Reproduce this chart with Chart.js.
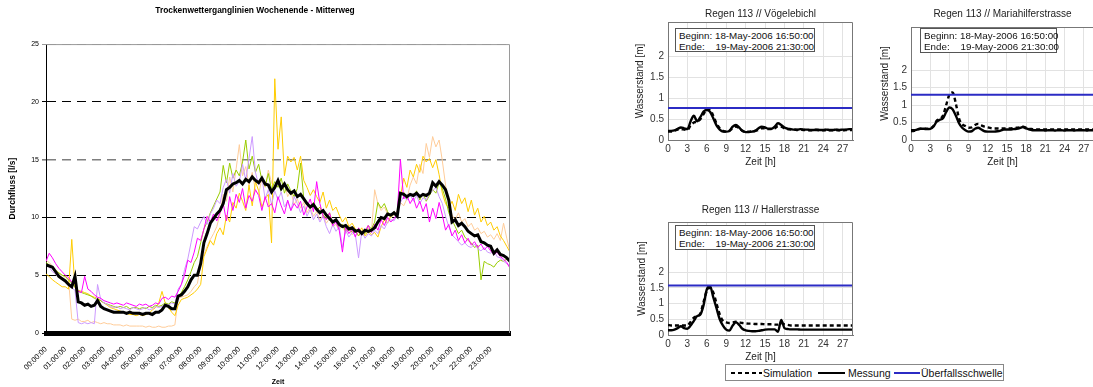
<!DOCTYPE html>
<html lang="de">
<head>
<meta charset="utf-8">
<title>Trockenwetterganglinien / Regen 113</title>
<script src="https://cdn.jsdelivr.net/npm/chart.js@4.4.1/dist/chart.umd.min.js"></script>
<style>
  html, body { margin: 0; padding: 0; background: #fff; }
  body { position: relative; width: 1093px; height: 387px; overflow: hidden; font-family: "Liberation Sans", Arial, sans-serif; }
  canvas { position: absolute; }
  .info { position: absolute; box-sizing: border-box; background: #fff; border: 1px solid #555; font-size: 9.8px; line-height: 11px; padding: 1px 0 0 3px; white-space: pre; color: #111; }
  #legende { position: absolute; left: 725px; top: 364px; width: 279px; height: 17px; box-sizing: border-box; border: 1px solid #888; background: #fff; font-size: 10.5px; color: #111; }
  #legende span { position: absolute; top: 2px; }
  #legende i { position: absolute; top: 7px; height: 2px; }
</style>
</head>
<body>
<canvas id="links" width="520" height="387" style="left:0;top:0"></canvas>
<canvas id="voegelebichl" width="240" height="170" style="left:620px;top:0"></canvas>
<canvas id="mariahilf" width="240" height="170" style="left:860px;top:0"></canvas>
<canvas id="haller" width="240" height="175" style="left:620px;top:190px"></canvas>

<div class="info" style="left:675px;top:28px;width:140px;height:24px">Beginn: 18-May-2006 16:50:00
Ende:    19-May-2006 21:30:00</div>
<div class="info" style="left:920px;top:28px;width:137px;height:25px">Beginn: 18-May-2006 16:50:00
Ende:    19-May-2006 21:30:00</div>
<div class="info" style="left:675px;top:225px;width:140px;height:25px">Beginn: 18-May-2006 16:50:00
Ende:    19-May-2006 21:30:00</div>

<div id="legende">
  <i style="left:5px;width:31px;background:repeating-linear-gradient(90deg,#000 0 4px,transparent 4px 7px)"></i>
  <span style="left:37px">Simulation</span>
  <i style="left:92px;width:27px;background:#000"></i>
  <span style="left:122px">Messung</span>
  <i style="left:168px;width:26px;background:#2b2bc4"></i>
  <span style="left:195px">Überfallsschwelle</span>
</div>

<script>
Chart.defaults.font.family = '"Liberation Sans", Arial, sans-serif';

// ---- linkes Diagramm: Trockenwetter, 10-Minuten-Werte [l/s] ----
const schrittStunden = 10 / 60;
const zeitLabels = [
  "00:00:00", "01:00:00", "02:00:00", "03:00:00", "04:00:00", "05:00:00",
  "06:00:00", "07:00:00", "08:00:00", "09:00:00", "10:00:00", "11:00:00",
  "12:00:00", "13:00:00", "14:00:00", "15:00:00", "16:00:00", "17:00:00",
  "18:00:00", "19:00:00", "20:00:00", "21:00:00", "22:00:00", "23:00:00",
];

const mittel = [
  5.9, 5.8, 5.7, 5.3, 4.9, 4.7,
  4.5, 4.2, 4.0, 4.9, 2.7, 2.6,
  2.4, 2.5, 2.3, 2.4, 2.8, 2.3,
  2.1, 2.0, 1.9, 1.8, 1.8, 1.8,
  1.8, 1.7, 1.8, 1.7, 1.7, 1.7,
  1.6, 1.7, 1.7, 1.6, 1.8, 1.8,
  2.0, 2.4, 2.3, 2.1, 2.1, 3.2,
  3.3, 3.6, 4.0, 4.6, 5.0, 5.0,
  6.0, 7.8, 8.6, 9.5, 9.9, 10.3,
  10.6, 11.2, 12.4, 12.6, 12.9, 13.0,
  13.2, 12.9, 13.3, 13.1, 13.5, 13.2,
  13.0, 13.4, 12.9, 12.8, 12.2, 12.6,
  13.2, 12.5, 12.9, 12.4, 12.1, 12.3,
  11.8, 12.0, 11.6, 11.2, 10.9, 11.1,
  10.7, 10.4, 10.6, 10.2, 9.9, 9.6,
  9.8, 9.4, 9.2, 9.3, 9.0, 9.1,
  8.8, 8.9, 8.6, 8.9, 8.8, 8.9,
  9.1, 9.6, 10.0, 9.9, 10.3, 10.2,
  10.4, 10.1, 12.1, 12.0, 11.8, 12.0,
  11.9, 12.1, 11.8, 12.0, 11.9, 12.1,
  13.0, 12.7, 13.1, 12.8, 12.4, 11.5,
  9.6, 9.8, 9.3, 9.5, 9.2, 8.8,
  8.6, 8.4, 8.5, 7.9, 7.8, 7.6,
  7.5, 6.9, 7.2, 6.8, 6.7, 6.5,
  6.2,
];

const tagMagenta = [
  6.2, 6.9, 6.5, 6.0, 5.6, 5.3,
  5.0, 4.8, 4.4, 4.3, 3.6, 3.5,
  4.9, 3.8, 3.6, 3.3, 3.1, 3.0,
  2.8, 2.7, 2.6, 2.5, 2.6, 2.5,
  2.4, 2.6, 2.5, 2.4, 2.3, 2.5,
  2.4, 2.5, 2.3, 2.4, 2.6, 2.5,
  3.0, 3.1, 2.9, 3.2, 3.1, 3.6,
  4.2, 5.0, 6.3, 6.1, 7.0, 8.2,
  8.0, 9.0, 10.1, 9.6, 10.3, 9.7,
  10.4, 11.2, 9.7, 11.8, 10.6, 12.0,
  11.3, 12.5, 10.8, 11.9, 11.4, 12.4,
  11.9, 10.6, 11.8, 10.9, 11.2, 10.4,
  11.8, 11.0, 10.3, 11.5, 10.6, 11.2,
  10.8, 11.4, 10.2, 10.9, 11.6, 10.5,
  13.1, 11.2, 10.1, 9.8, 10.4, 9.3,
  9.6, 8.9, 7.0, 9.2, 8.6, 9.0,
  8.3, 9.1, 8.5, 8.8, 9.3, 8.7,
  9.4, 8.9, 9.8, 9.3, 10.0, 9.6,
  9.9, 10.3, 15.0, 11.6, 11.9, 11.2,
  11.7, 10.8, 11.4, 10.5, 11.2, 9.6,
  10.8, 9.9, 11.3, 10.2, 8.9, 9.4,
  8.4, 8.9, 8.0, 8.5, 7.8, 8.2,
  7.6, 7.9, 7.4, 7.7, 7.2, 7.5,
  7.1, 6.8, 7.0, 6.6, 6.4, 6.1,
  5.6,
];

const tagLila = [
  6.0, 5.7, 5.3, 5.1, 4.8, 4.6,
  4.4, 4.1, 3.9, 3.7, 0.9, 0.8,
  0.9, 0.8, 0.9, 0.8, 4.2, 2.9,
  2.6, 2.5, 2.3, 2.2, 2.3, 2.1,
  2.2, 2.1, 2.0, 2.2, 2.1, 2.0,
  2.1, 2.2, 2.0, 2.1, 2.3, 2.2,
  2.3, 2.5, 2.4, 2.6, 2.5, 3.8,
  4.2, 5.5, 6.4, 7.8, 9.2, 9.0,
  9.6, 10.1, 9.4, 10.3, 10.8, 11.5,
  11.2, 12.6, 13.3, 12.1, 13.8, 12.7,
  13.1, 14.6, 13.2, 15.1, 17.0, 13.9,
  12.8, 13.5, 11.6, 12.4, 11.1, 12.3,
  11.5, 12.2, 10.9, 11.4, 10.6, 11.8,
  11.2, 10.4, 11.0, 10.1, 10.7, 9.8,
  10.3, 9.6, 10.1, 9.2, 8.6, 9.4,
  8.8, 9.2, 7.4, 8.9, 8.3, 8.7,
  8.5, 6.5, 8.8, 8.2, 8.6, 8.4,
  8.9, 8.6, 9.3, 9.0, 9.6, 9.8,
  9.7, 10.2, 11.3, 11.8, 11.5, 12.0,
  11.4, 11.9, 11.2, 11.7, 11.5, 12.1,
  12.3, 12.6, 11.8, 11.2, 10.1, 9.2,
  8.5, 8.2, 7.9, 7.6, 7.8, 7.5,
  7.4, 7.7, 7.3, 7.1, 7.4, 7.0,
  6.9, 7.2, 6.6, 6.5, 6.2, 6.0,
  5.8,
];

const tagGruen = [
  6.1, 5.9, 5.6, 5.4, 5.2, 5.0,
  4.9, 4.6, 4.3, 4.0, 3.6, 3.5,
  3.4, 3.3, 3.2, 3.0, 2.9, 2.8,
  2.6, 2.5, 2.4, 2.3, 2.2, 2.3,
  2.2, 2.3, 2.1, 2.2, 2.2, 2.1,
  2.2, 2.1, 2.3, 2.2, 2.4, 2.3,
  2.4, 2.6, 2.5, 2.7, 2.6, 3.2,
  3.5, 4.0, 4.6, 5.3, 6.1, 6.6,
  7.8, 9.0, 9.6, 10.4, 11.0, 11.6,
  12.2, 14.5, 13.0, 14.7, 13.4, 14.1,
  13.6, 14.8, 16.7, 14.2, 15.3, 13.9,
  14.6, 13.2, 12.7, 13.8, 12.4, 13.1,
  12.6, 13.4, 12.1, 12.9, 12.3, 11.8,
  12.5, 14.7, 11.6, 11.2, 10.8, 11.3,
  10.6, 10.9, 10.2, 9.9, 10.4, 9.5,
  9.7, 9.1, 9.4, 8.8, 9.2, 8.7,
  8.9, 8.4, 8.8, 8.6, 9.3, 9.0,
  9.6, 11.3, 10.8, 11.2, 10.5, 10.1,
  10.3, 10.0, 11.9, 12.2, 11.6, 12.0,
  11.8, 12.3, 11.5, 12.1, 11.4, 11.9,
  12.4, 12.1, 13.0, 12.5, 11.6, 10.4,
  9.8, 9.2, 8.6, 8.9, 8.3, 8.0,
  7.8, 7.4, 7.6, 4.6, 6.2, 6.0,
  5.9, 5.7, 6.1, 6.3, 6.2, 6.4,
  6.5,
];

const tagGold = [
  5.1, 4.9, 4.6, 4.4, 4.2, 4.0,
  4.0, 3.8, 8.1, 3.9, 3.7, 3.6,
  3.5, 3.4, 3.2, 3.1, 3.0, 2.8,
  2.6, 2.4, 2.2, 2.1, 2.0, 1.9,
  1.8, 1.7, 1.6, 1.6, 1.5, 1.6,
  1.5, 1.6, 1.7, 2.0, 2.2, 2.6,
  3.6, 2.6, 2.2, 1.8, 1.5, 2.4,
  2.9, 3.0, 3.1, 3.3, 3.5, 3.8,
  4.2, 6.6, 7.3, 8.0, 7.6, 8.6,
  9.1, 8.5, 10.2, 9.6, 11.3, 10.8,
  12.1, 11.4, 10.6, 12.8, 11.0, 13.1,
  12.3, 10.9, 11.6, 12.0, 7.8, 22.0,
  15.9, 18.7, 13.6, 15.3, 14.8, 15.2,
  14.1, 15.3, 13.2, 12.6, 11.9, 12.4,
  11.8, 11.3, 12.2, 10.8, 11.5, 10.6,
  10.9, 10.2, 9.6, 10.0, 9.2, 9.5,
  9.0, 8.7, 9.1, 8.4, 8.8, 8.5,
  8.7, 8.3, 9.2, 9.8, 9.5, 10.1,
  10.5, 10.2, 11.8, 13.4, 12.6, 14.1,
  13.5, 14.6, 13.9, 15.3, 14.8, 15.1,
  14.3, 15.0, 13.7, 12.1, 11.2, 10.8,
  11.4, 10.6, 12.0, 11.2, 11.7, 10.5,
  11.5, 10.2, 10.8, 9.6, 10.1, 9.3,
  9.6, 8.9, 9.2, 8.4, 8.0, 7.5,
  7.0,
];

const tagPfirsich = [
  6.3, 6.1, 5.8, 5.5, 5.2, 5.0,
  4.8, 4.6, 1.2, 1.1, 1.2, 1.0,
  1.0, 1.1, 0.9, 1.0, 0.9, 0.8,
  0.9, 0.8, 0.8, 0.7, 0.7, 0.7,
  0.6, 0.7, 0.6, 0.6, 0.6, 0.6,
  0.6, 0.5, 0.6, 0.5, 0.5, 0.6,
  0.5, 0.5, 0.6, 0.6, 0.7, 3.0,
  3.1, 3.2, 3.3, 3.6, 4.0, 4.3,
  6.0, 6.8, 7.5, 8.1, 8.6, 9.2,
  10.3, 12.0, 11.4, 13.5, 12.2, 14.2,
  16.3, 13.6, 14.4, 12.8, 13.9, 12.3,
  12.0, 13.4, 12.6, 14.1, 13.0, 12.5,
  13.2, 12.4, 13.0, 11.8, 12.3, 11.1,
  11.6, 10.8, 11.3, 10.4, 10.9, 10.1,
  10.5, 9.8, 10.2, 9.5, 9.9, 9.2,
  9.4, 8.9, 9.3, 8.6, 9.0, 8.5,
  8.8, 8.4, 8.9, 8.6, 9.1, 8.7,
  12.4, 11.2, 10.6, 10.9, 10.3, 10.0,
  10.2, 10.6, 11.3, 11.0, 11.6, 12.8,
  13.5, 12.9, 14.6, 13.8, 16.4, 15.2,
  17.0, 16.1, 16.7, 14.9, 12.8, 11.4,
  10.2, 9.8, 10.4, 9.6, 9.9, 9.2,
  9.5, 8.9, 9.1, 8.6, 8.8, 8.3,
  8.5, 8.1, 8.6, 8.0, 9.5, 8.2,
  7.0,
];

// ---- rechte Diagramme: Regen 113, Halbstundenwerte [m] ----
const schrittRegen = 0.5;
const zeitMax = 28.6;
const xTicksRegen = [0, 3, 6, 9, 12, 15, 18, 21, 24, 27];
const yTicksRegen = [0, 0.5, 1, 1.5, 2];

const messungVoegelebichl = [
  0.22, 0.22, 0.23, 0.27, 0.30, 0.28, 0.26, 0.45, 0.58, 0.45, 0.55, 0.68,
  0.72, 0.68, 0.52, 0.35, 0.25, 0.20, 0.20, 0.22, 0.32, 0.36, 0.30, 0.22,
  0.19, 0.19, 0.20, 0.22, 0.28, 0.32, 0.30, 0.27, 0.27, 0.32, 0.40, 0.36,
  0.30, 0.27, 0.26, 0.25, 0.25, 0.26, 0.25, 0.25, 0.24, 0.24, 0.25, 0.24,
  0.24, 0.25, 0.24, 0.24, 0.25, 0.24, 0.25, 0.25, 0.26, 0.26,
];
const simulationVoegelebichl = [
  0.20, 0.20, 0.22, 0.25, 0.26, 0.25, 0.24, 0.35, 0.42, 0.44, 0.50, 0.62,
  0.74, 0.73, 0.58, 0.40, 0.28, 0.22, 0.20, 0.22, 0.28, 0.32, 0.28, 0.22,
  0.20, 0.20, 0.21, 0.22, 0.24, 0.28, 0.28, 0.26, 0.26, 0.28, 0.33, 0.32,
  0.28, 0.26, 0.25, 0.25, 0.24, 0.25, 0.24, 0.24, 0.23, 0.24, 0.24, 0.23,
  0.23, 0.24, 0.23, 0.23, 0.24, 0.23, 0.23, 0.24, 0.24, 0.24,
];

const messungMariahilf = [
  0.28, 0.28, 0.30, 0.32, 0.32, 0.31, 0.32, 0.38, 0.52, 0.58, 0.62, 0.80,
  0.93, 0.88, 0.70, 0.48, 0.35, 0.28, 0.24, 0.25, 0.32, 0.35, 0.30, 0.25,
  0.24, 0.24, 0.24, 0.25, 0.27, 0.30, 0.30, 0.30, 0.31, 0.32, 0.34, 0.37,
  0.33, 0.30, 0.28, 0.28, 0.28, 0.28, 0.27, 0.28, 0.28, 0.27, 0.28, 0.28,
  0.27, 0.28, 0.28, 0.27, 0.28, 0.28, 0.28, 0.27, 0.28, 0.28,
];
const simulationMariahilf = [
  0.25, 0.26, 0.30, 0.32, 0.33, 0.32, 0.33, 0.40, 0.55, 0.60, 0.70, 1.00,
  1.30, 1.36, 1.05, 0.62, 0.45, 0.40, 0.35, 0.36, 0.43, 0.46, 0.42, 0.38,
  0.36, 0.34, 0.33, 0.33, 0.33, 0.33, 0.33, 0.33, 0.34, 0.35, 0.36, 0.38,
  0.35, 0.32, 0.31, 0.30, 0.30, 0.30, 0.30, 0.30, 0.30, 0.30, 0.30, 0.30,
  0.30, 0.30, 0.30, 0.30, 0.30, 0.30, 0.30, 0.30, 0.30, 0.30,
];

const messungHaller = [
  0.15, 0.15, 0.17, 0.22, 0.28, 0.22, 0.20, 0.30, 0.45, 0.60, 0.65, 0.95,
  1.45, 1.55, 1.20, 0.85, 0.50, 0.30, 0.17, 0.14, 0.30, 0.40, 0.32, 0.20,
  0.15, 0.13, 0.12, 0.12, 0.13, 0.15, 0.17, 0.18, 0.18, 0.18, 0.10, 0.48,
  0.22, 0.19, 0.18, 0.18, 0.18, 0.17, 0.17, 0.17, 0.17, 0.17, 0.17, 0.17,
  0.17, 0.17, 0.17, 0.17, 0.17, 0.17, 0.17, 0.17, 0.17, 0.17,
];
const simulationHaller = [
  0.32, 0.30, 0.30, 0.30, 0.30, 0.30, 0.30, 0.42, 0.55, 0.60, 0.68, 1.05,
  1.40, 1.50, 1.35, 1.00, 0.65, 0.45, 0.40, 0.38, 0.40, 0.42, 0.40, 0.38,
  0.37, 0.36, 0.36, 0.35, 0.35, 0.35, 0.34, 0.34, 0.34, 0.33, 0.33, 0.38,
  0.34, 0.32, 0.30, 0.30, 0.30, 0.30, 0.30, 0.30, 0.30, 0.30, 0.30, 0.30,
  0.30, 0.30, 0.30, 0.30, 0.30, 0.30, 0.30, 0.30, 0.30, 0.30,
];

// Überfallsschwelle: Vögelebichl, Mariahilferstrasse, Hallerstrasse
const schwellen = [0.77, 1.29, 1.57];

function punkte(werte, schritt) {
  return werte.map((v, i) => ({ x: i * schritt, y: v }));
}

// graue Rahmenlinie oben und rechts
function rahmen(farbe) {
  return {
    id: "rahmen",
    afterDatasetsDraw(chart) {
      const { ctx, chartArea: a } = chart;
      ctx.save();
      ctx.strokeStyle = farbe;
      ctx.lineWidth = 1;
      ctx.beginPath();
      ctx.moveTo(a.left, a.top + 0.5);
      ctx.lineTo(a.right - 0.5, a.top + 0.5);
      ctx.lineTo(a.right - 0.5, a.bottom);
      ctx.stroke();
      ctx.restore();
    },
  };
}

// Titel zentriert über der Achse (wie MATLAB)
const kopfTitel = {
  id: "kopf",
  afterDraw(chart, args, o) {
    const { ctx, chartArea: a } = chart;
    ctx.save();
    ctx.font = '10px "Liberation Sans", Arial, sans-serif';
    ctx.fillStyle = "#222";
    ctx.textAlign = "center";
    ctx.textBaseline = "middle";
    ctx.fillText(o.text, (a.left + a.right) / 2, o.y);
    ctx.restore();
  },
};

const linieFarbe = (c) => (c.tick && c.tick.value === 15 ? "#7f7f7f" : c.tick && c.tick.value === 25 ? "#9a9a9a" : "#000");

new Chart(document.getElementById("links"), {
  type: "line",
  data: {
    datasets: [
      { label: "Mittelwert", data: punkte(mittel, schrittStunden), borderColor: "#000", borderWidth: 3 },
      { label: "Tag 1", data: punkte(tagMagenta, schrittStunden), borderColor: "#FF00FF", borderWidth: 1 },
      { label: "Tag 2", data: punkte(tagLila, schrittStunden), borderColor: "#CC99FF", borderWidth: 1 },
      { label: "Tag 3", data: punkte(tagGruen, schrittStunden), borderColor: "#99CC00", borderWidth: 1 },
      { label: "Tag 4", data: punkte(tagGold, schrittStunden), borderColor: "#FFCC00", borderWidth: 1 },
      { label: "Tag 5", data: punkte(tagPfirsich, schrittStunden), borderColor: "#FFCC99", borderWidth: 1 },
    ],
  },
  options: {
    responsive: false,
    animation: false,
    devicePixelRatio: 1,
    layout: { padding: { left: 0, right: 10, top: 0, bottom: 0 } },
    elements: { point: { radius: 0 }, line: { tension: 0 } },
    plugins: {
      legend: { display: false },
      tooltip: { enabled: false },
      title: {
        display: true,
        text: "Trockenwetterganglinien Wochenende - Mitterweg",
        color: "#000",
        font: { size: 8.4, weight: "bold" },
        padding: { top: 6, bottom: 28 },
      },
    },
    scales: {
      x: {
        type: "linear",
        min: 0,
        max: 24,
        afterBuildTicks: (s) => { s.ticks = zeitLabels.map((t, i) => ({ value: i })); },
        ticks: { autoSkip: false, minRotation: 45, maxRotation: 45, callback: (v) => zeitLabels[v], color: "#000", font: { size: 7.5 }, padding: 4 },
        grid: { display: false },
        border: { display: true, color: "#000", width: 5 },
        title: { display: true, text: "Zeit", color: "#000", font: { size: 7, weight: "bold" }, padding: { top: 0, bottom: 1 } },
        afterFit: (s) => { s.height = 54; },
      },
      y: {
        min: 0,
        max: 25,
        ticks: { stepSize: 5, color: "#000", font: { size: 7 }, padding: 3 },
        grid: { color: linieFarbe, tickColor: linieFarbe, lineWidth: (c) => (c.tick && c.tick.value === 15 ? 1.6 : 1), tickLength: 4 },
        border: { display: true, color: "#000", width: 1, dash: [9, 6] },
        title: { display: true, text: "Durchfluss [l/s]", color: "#000", font: { size: 8.5, weight: "bold" }, padding: { top: 8, bottom: 0 } },
        afterFit: (s) => { s.width = 46; },
      },
    },
  },
  plugins: [rahmen("#9a9a9a")],
});

function regenDiagramm(id, titel, titelY, oben, rechts, yBreite, yTitelPad, xHoehe, yMax, messung, simulation, schwelle) {
  return new Chart(document.getElementById(id), {
    type: "line",
    data: {
      datasets: [
        { label: "Überfallsschwelle", data: [{ x: 0, y: schwelle }, { x: zeitMax, y: schwelle }], borderColor: "#2b2bc4", borderWidth: 2 },
        { label: "Messung", data: punkte(messung, schrittRegen), borderColor: "#000", borderWidth: 2.4, cubicInterpolationMode: "monotone" },
        { label: "Simulation", data: punkte(simulation, schrittRegen), borderColor: "#000", borderWidth: 2.4, borderDash: [4, 3], cubicInterpolationMode: "monotone" },
      ],
    },
    options: {
      responsive: false,
      animation: false,
      devicePixelRatio: 1,
      layout: { padding: { top: oben, right: rechts } },
      elements: { point: { radius: 0 } },
      plugins: { legend: { display: false }, tooltip: { enabled: false }, kopf: { text: titel, y: titelY } },
      scales: {
        x: {
          type: "linear",
          min: 0,
          max: zeitMax,
          afterBuildTicks: (s) => { s.ticks = xTicksRegen.map((v) => ({ value: v })); },
          ticks: { autoSkip: false, maxRotation: 0, color: "#333", font: { size: 10 }, padding: 3, callback: (v) => String(v) },
          grid: { color: "#e2e2e2", drawTicks: false },
          border: { color: "#777" },
          title: { display: true, text: "Zeit [h]", color: "#222", font: { size: 10 }, padding: { top: 0, bottom: 2 } },
          afterFit: (s) => { s.height = xHoehe; },
        },
        y: {
          min: 0,
          max: yMax,
          afterBuildTicks: (s) => { s.ticks = yTicksRegen.map((v) => ({ value: v })); },
          ticks: { color: "#333", font: { size: 10 }, padding: 4, callback: (v) => String(v) },
          grid: { color: "#e2e2e2", drawTicks: false },
          border: { color: "#777" },
          title: { display: true, text: "Wasserstand [m]", color: "#222", font: { size: 10 }, padding: { top: yTitelPad, bottom: 0 } },
          afterFit: (s) => { s.width = yBreite; },
        },
      },
    },
    plugins: [kopfTitel, rahmen("#777")],
  });
}

regenDiagramm("voegelebichl", "Regen 113 // Vögelebichl", 14, 22, 7, 48, 14, 30, 2.83,
  messungVoegelebichl, simulationVoegelebichl, schwellen[0]);
regenDiagramm("mariahilf", "Regen 113 // Mariahilferstrasse", 14, 27, 6, 51, 19, 30, 3.23,
  messungMariahilf, simulationMariahilf, schwellen[1]);
regenDiagramm("haller", "Regen 113 // Hallerstrasse", 20, 32, 7, 48, 16, 30, 3.59,
  messungHaller, simulationHaller, schwellen[2]);
</script>
</body>
</html>
